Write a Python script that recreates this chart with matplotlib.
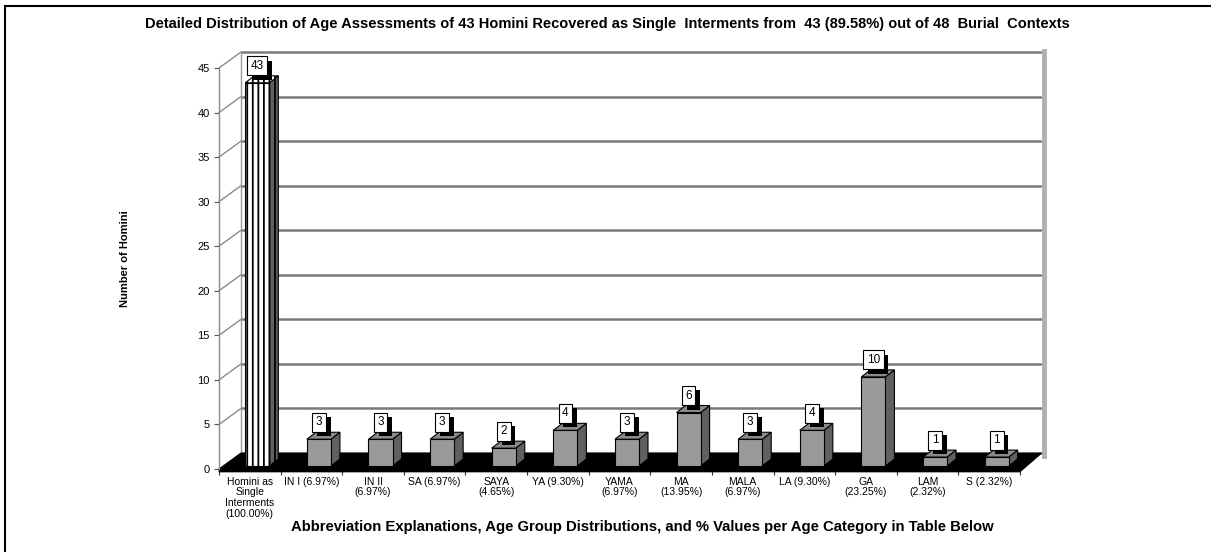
import matplotlib
matplotlib.use("Agg")
import matplotlib.pyplot as plt
import matplotlib.patheffects as pe
import numpy as np
from matplotlib.patches import Polygon, Rectangle

plt.rcParams["font.family"] = ["Liberation Sans", "DejaVu Sans"]
plt.rcParams["hatch.linewidth"] = 1.3

# ---- data -------------------------------------------------------------
categories = [
    "Homini as\nSingle\nInterments\n(100.00%)",
    "IN I (6.97%)",
    "IN II\n(6.97%)",
    "SA (6.97%)",
    "SAYA\n(4.65%)",
    "YA (9.30%)",
    "YAMA\n(6.97%)",
    "MA\n(13.95%)",
    "MALA\n(6.97%)",
    "LA (9.30%)",
    "GA\n(23.25%)",
    "LAM\n(2.32%)",
    "S (2.32%)",
]
counts = [43, 3, 3, 3, 2, 4, 3, 6, 3, 4, 10, 1, 1]
y_ticks = [0, 5, 10, 15, 20, 25, 30, 35, 40, 45]

title = ("Detailed Distribution of Age Assessments of 43 Homini Recovered as Single  "
         "Interments from  43 (89.58%) out of 48  Burial  Contexts")
xlabel = "Abbreviation Explanations, Age Group Distributions, and % Values per Age Category in Table Below"
ylabel = "Number of Homini"

# ---- figure & axes ----------------------------------------------------
W, H = 1211, 552
fig = plt.figure(figsize=(W / 100, H / 100), dpi=100)
ax = fig.add_axes([219 / W, 1 - 469 / H, 801 / W, 401 / H])
n = len(categories)
ax.set_xlim(-0.5, n - 0.5)
ax.set_ylim(0, 45)

# pixel -> data unit conversion for the pseudo-3D depth offsets
sx, sy = ax.transData.transform((1, 1)) - ax.transData.transform((0, 0))


def px(dx, dy):
    return dx / sx, dy / sy


WX, WY = px(22, 16)      # depth of the chart walls
BX, BY = px(9, 7)        # depth of each column
SX, SY = px(1, 3)        # columns sit slightly behind the front edge
bar_w = 0.39
bar_shift = 0.105

# ---- walls and floor --------------------------------------------------
x0, x1 = -0.5, n - 0.5
grid_c = "#7a7a7a"
for v in y_ticks:
    ax.plot([x0 + WX, x1 + WX], [v + WY, v + WY], color=grid_c, lw=1.8, zorder=1,
            solid_capstyle="butt", clip_on=False)
    ax.plot([x0, x0 + WX], [v, v + WY], color="#8a8a8a", lw=1.0, zorder=1, clip_on=False)
# back-left and back-right wall edges
ax.plot([x0 + WX, x0 + WX], [WY, 45 + WY], color="#9a9a9a", lw=1.0, zorder=1,
        clip_on=False)
ax.plot([x1 + WX + px(1.5, 0)[0]] * 2, [WY - 0.3, 45 + WY + 0.1], color="#b0b0b0",
        lw=3.5, zorder=1, clip_on=False)

# black floor slab
_, fy = px(0, 3)
floor = Polygon([(x0, -fy), (x1, -fy), (x1 + WX, WY), (x0 + WX, WY), (x0, 0)],
                closed=True, fc="black", ec="black", lw=0.5, zorder=2, clip_on=False)
ax.add_patch(floor)

# ---- columns ----------------------------------------------------------
front_c, side_c, top_c = "#9a9a9a", "#606060", "#8a8a8a"
shadow = [pe.SimplePatchShadow(offset=(3.5, -3.2), shadow_rgbFace="black", alpha=1.0),
          pe.Normal()]
for i, v in enumerate(counts):
    cx = i + bar_shift + SX
    l, r = cx - bar_w / 2, cx + bar_w / 2
    b, t = SY, SY + v
    striped = i == 0
    fc_front = "white" if striped else front_c
    hatch = "|||" if striped else None
    front = Polygon([(l, b), (r, b), (r, t), (l, t)], closed=True, fc=fc_front,
                    ec="black", lw=0.8, hatch=hatch, zorder=3, clip_on=False)
    side = Polygon([(r, b), (r + BX, b + BY), (r + BX, t + BY), (r, t)], closed=True,
                   fc=side_c, ec="black", lw=0.8, hatch=hatch, zorder=3, clip_on=False)
    top = Polygon([(l, t), (r, t), (r + BX, t + BY), (l + BX, t + BY)], closed=True,
                  fc="white" if striped else top_c, ec="black", lw=0.8, hatch=hatch,
                  zorder=3, clip_on=False)
    for p in (side, top, front):
        ax.add_patch(p)

    # value label in a box with a drop shadow
    ann = ax.annotate(str(v), xy=(cx, t), xytext=(0, 17), textcoords="offset pixels",
                      ha="center", va="center", fontsize=8.5, color="black", zorder=5,
                      bbox=dict(boxstyle="square,pad=0.3", fc="white", ec="black",
                                lw=0.8))
    ann.get_bbox_patch().set_path_effects(shadow)

# ---- axes decoration --------------------------------------------------
for s in ("top", "right", "bottom"):
    ax.spines[s].set_visible(False)
ax.spines["left"].set_color("#8a8a8a")
ax.spines["left"].set_linewidth(1.0)
ax.set_yticks(y_ticks)
ax.tick_params(axis="y", length=3.6, width=0.8, color="#555555", labelsize=8, pad=3)
ax.set_xticks(np.arange(-0.5, n), [""] * (n + 1))
ax.tick_params(axis="x", which="major", length=4, width=0.8, color="#333333")
ax.set_xticks(np.arange(n), categories, minor=True)
ax.tick_params(axis="x", which="minor", length=0, pad=5.5, labelsize=7.5)
for lab in ax.get_xticklabels(minor=True):
    lab.set_linespacing(1.1)
    lab.set_verticalalignment("top")
ax.patch.set_visible(False)

fig.text(125 / W, 1 - 259 / H, ylabel, rotation=90, ha="center", va="center",
         fontsize=8, fontweight="bold")
fig.text(607 / W, 1 - 24 / H, title, ha="center", va="center", fontsize=10.5,
         fontweight="bold")
fig.text(642 / W, 1 - 527 / H, xlabel, ha="center", va="center", fontsize=10.7,
         fontweight="bold")

# outer chart frame
fig.add_artist(Rectangle((5 / W, -0.1), 1.2, 1.1 - 5.5 / H, transform=fig.transFigure,
                         fill=False, ec="black", lw=1.5))

fig.savefig("out.png", dpi=100)
